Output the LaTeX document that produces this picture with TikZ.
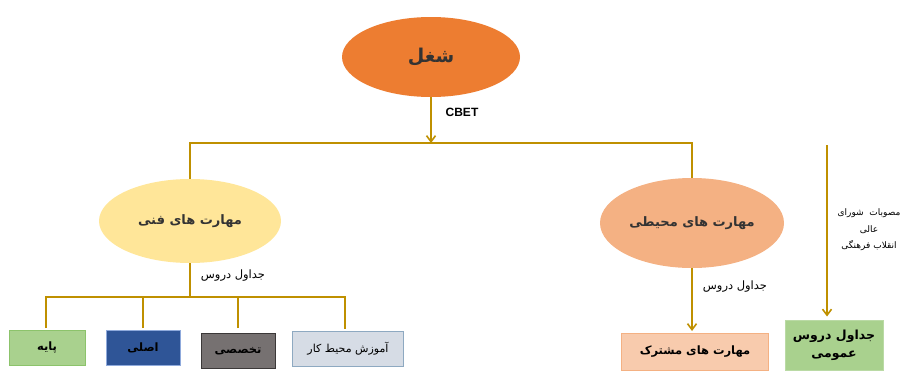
\documentclass[tikz,border=0pt]{standalone}
\usepackage{fontspec}
\usetikzlibrary{shapes.geometric,arrows.meta}
\setmainfont{Liberation Sans}
\newfontfamily\arabicfont[Script=Arabic]{DejaVu Sans}
\TeXXeTstate=1
\definecolor{gold}{HTML}{BF9000}
\definecolor{txtgray}{HTML}{333333}
\definecolor{orangeA}{HTML}{ED7D31}
\definecolor{yellowA}{HTML}{FFE699}
\definecolor{salmonA}{HTML}{F4B183}
\definecolor{greenA}{HTML}{A9D18E}
\definecolor{greenB}{HTML}{8CC36B}
\definecolor{blueA}{HTML}{2F5597}
\definecolor{blueB}{HTML}{8FAADC}
\definecolor{grayA}{HTML}{767171}
\definecolor{grayB}{HTML}{3B3838}
\definecolor{paleA}{HTML}{D6DCE5}
\definecolor{paleB}{HTML}{8EA9C1}
\definecolor{peachA}{HTML}{F8CBAD}
\definecolor{peachB}{HTML}{F4B183}
\tikzset{
  ell/.style={ellipse, draw=none, inner sep=0pt, text=txtgray,
    font=\arabicfont\bfseries\fontsize{13}{15}\selectfont},
  boxnode/.style={rectangle, line width=1pt, inner sep=0pt, minimum height=35pt, text=black,
    font=\arabicfont\bfseries\fontsize{11.5}{13}\selectfont},
  link/.style={draw=gold, line width=1.6pt},
  arr/.style={link, -{Straight Barb[length=6pt,width=9pt]}},
  lab/.style={inner sep=1pt, text=black, font=\arabicfont\fontsize{11.5}{13}\selectfont},
}
\begin{document}
\begin{tikzpicture}[x=1pt,y=-1pt]
\useasboundingbox (0,0) rectangle (908,370);
% ellipses
\node[ell, fill=orangeA, minimum width=178pt, minimum height=80pt,
  font=\arabicfont\bfseries\fontsize{19}{22}\selectfont] (shoghl) at (431,57) {\beginR شغل\endR};
\node[ell, fill=yellowA, minimum width=182pt, minimum height=84pt] (fanni) at (190,221) {\beginR مهارت های فنی\endR};
\node[ell, fill=salmonA, minimum width=184pt, minimum height=90pt] (mohiti) at (692,223) {\beginR مهارت های محیطی\endR};
% boxes
\node[boxnode, fill=greenA, draw=greenB, minimum width=76pt] (paye) at (47,348) {\beginR پایه\endR};
\node[boxnode, fill=blueA, draw=blueB, minimum width=74pt] (asli) at (143,348) {\beginR اصلی\endR};
\node[boxnode, fill=grayA, draw=grayB, minimum width=74pt] (takh) at (238,351) {\beginR تخصصی\endR};
\node[boxnode, fill=paleA, draw=paleB, minimum width=111pt, font=\arabicfont\fontsize{11}{13}\selectfont] (amuz) at (348,349) {\beginR آموزش محیط کار\endR};
\node[boxnode, fill=peachA, draw=peachB, minimum width=147pt, minimum height=37pt] (moshtarak) at (695,352) {\beginR مهارت های مشترک\endR};
\node[boxnode, fill=greenA, draw=greenA!80!white, minimum width=98pt, minimum height=50pt, align=center,
  font=\arabicfont\bfseries\fontsize{12.5}{18}\selectfont] (omumi) at (834,345) {\beginR جداول دروس\endR\\ \beginR عمومی\endR};
% coordinates
\coordinate (barL) at (190,143);
\coordinate (barR) at (692,143);
\coordinate (fanL) at (46,297);
\coordinate (fanR) at (345,297);
\coordinate (top3) at (827,145);
% connectors
\draw[arr] (shoghl.south) -- (shoghl.south |- barL);
\draw[link] (fanni.north) -- (barL) -- (barR) -- (mohiti.north);
\draw[link] (fanni.south) -- (fanni.south |- fanL);
\draw[link] ([yshift=2pt]paye.north -| fanL) -- (fanL) -- (fanR) -- ([yshift=2pt]amuz.north -| fanR);
\draw[link] ([yshift=2pt]asli.north) -- (asli.north |- fanL);
\draw[link] ([yshift=5pt]takh.north) -- (takh.north |- fanL);
\draw[arr, shorten >=2pt] (mohiti.south) -- (moshtarak.north -| mohiti.south);
\draw[arr, shorten >=3pt] (top3) -- (top3 |- omumi.north);
% labels
\node[inner sep=1pt, font=\bfseries\fontsize{12}{14}\selectfont] (cbet) at (462,112) {CBET};
\node[lab] (lab1) at (233,276) {\beginR جداول دروس\endR};
\node[lab] (lab2) at (735,287) {\beginR جداول دروس\endR};
\node[lab, align=center, font=\arabicfont\fontsize{9}{16.5}\selectfont] (lab3) at (869,230)
  {\beginR مصوبات~~شورای\endR\\ \beginR عالی\endR\\ \beginR انقلاب فرهنگی\endR};
\end{tikzpicture}
\end{document}
